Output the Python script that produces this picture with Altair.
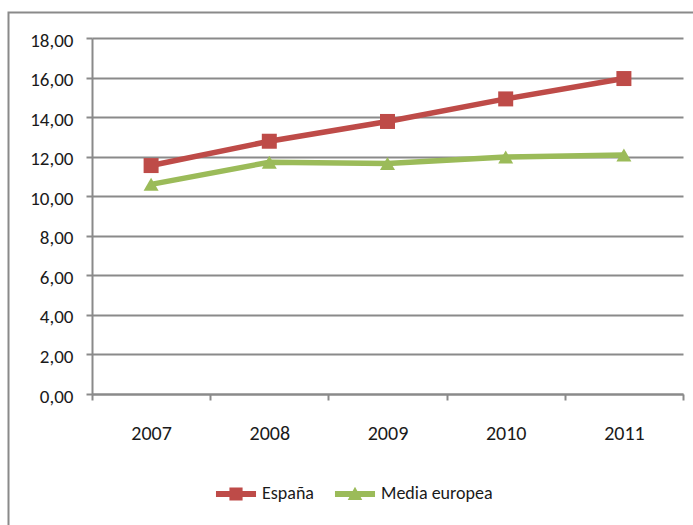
import altair as alt
import pandas as pd

years = ["2007", "2008", "2009", "2010", "2011"]
espana = [11.55, 12.78, 13.78, 14.92, 15.95]
media = [10.6, 11.72, 11.65, 11.98, 12.08]
series = ["España", "Media europea"]
colors = ["#BE4B48", "#9BBB59"]
y_ticks = [0, 2, 4, 6, 8, 10, 12, 14, 16, 18]

rows = []
for yr, v in zip(years, espana):
    rows.append({"Año": yr, "Valor": v, "Serie": series[0], "Leyenda": series[0]})
for yr, v in zip(years, media):
    rows.append({"Año": yr, "Valor": v, "Serie": series[1], "Leyenda": series[1]})
df = pd.DataFrame(rows)

FONT = "Carlito, Lato, sans-serif"
GRAY = "#8a8a8a"
TXT = "#1a1a1a"

x = alt.X(
    "Año:N",
    sort=years,
    scale=alt.Scale(domain=years, paddingInner=0, paddingOuter=0),
    axis=alt.Axis(
        title=None, grid=False, tickBand="extent", labelAngle=0,
        domainColor=GRAY, domainWidth=2, tickColor=GRAY, tickWidth=2, tickSize=6,
        labelFont=FONT, labelFontSize=20, labelColor=TXT, labelPadding=23,
    ),
)
y = alt.Y(
    "Valor:Q",
    scale=alt.Scale(domain=[0, 18], nice=False, zero=True),
    axis=alt.Axis(
        title=None, values=y_ticks, grid=True, gridColor=GRAY, gridWidth=2,
        labelExpr="replace(format(datum.value, '.2f'), '.', ',')",
        domainColor=GRAY, domainWidth=2, tickColor=GRAY, tickWidth=2, tickSize=6,
        labelFont=FONT, labelFontSize=19, labelColor=TXT, labelPadding=13, labelOffset=2,
    ),
)

color_nolegend = alt.Color("Serie:N", scale=alt.Scale(domain=series, range=colors), legend=None)

lines = alt.Chart(df).mark_line(strokeWidth=5.5).encode(x=x, y=y, color=color_nolegend)

points = alt.Chart(df).mark_point(filled=True, opacity=1, size=225).encode(
    x=x, y=y, color=color_nolegend,
    shape=alt.Shape("Serie:N", scale=alt.Scale(domain=series, range=["square", "triangle-up"]), legend=None),
)

path_sq = "M-1.43,-0.22H1.43V0.22H-1.43Z M-0.47,-0.47H0.47V0.47H-0.47Z"
path_tri = "M-1.43,-0.22H1.43V0.22H-1.43Z M0,-0.52L0.52,0.42H-0.52Z"

legend_layer = alt.Chart(df).transform_filter("false").mark_point(filled=True, opacity=1).encode(
    x=x, y=y,
    color=alt.Color(
        "Leyenda:N", scale=alt.Scale(domain=series, range=colors),
        legend=alt.Legend(
            title=None, orient="none", direction="horizontal", legendX=129, legendY=441,
            symbolSize=784, labelOffset=11, columnPadding=20,
            labelFont=FONT, labelFontSize=18, labelColor=TXT,
        ),
    ),
    shape=alt.Shape("Leyenda:N", scale=alt.Scale(domain=series, range=[path_sq, path_tri])),
)

border = alt.Chart(pd.DataFrame({"a": [0]})).mark_rect(
    fill=None, stroke=GRAY, strokeWidth=2
).encode(x=alt.value(-83.5), x2=alt.value(700), y=alt.value(-25.5), y2=alt.value(600))

chart = (
    alt.layer(border, lines, points, legend_layer)
    .resolve_scale(color="independent", shape="independent")
    .properties(
        width=591, height=356,
        autosize=alt.AutoSizeParams(type="none"),
        padding={"left": 92, "top": 38, "right": 10, "bottom": 131},
        background="white",
    )
    .configure_view(stroke=None)
)

chart.save("out.html", embed_options={"renderer": "svg", "actions": False})
